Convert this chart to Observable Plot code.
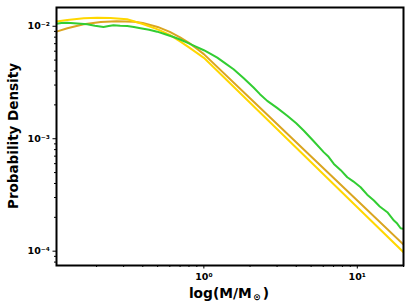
<!DOCTYPE html>
<html><head><meta charset="utf-8">
<script src="https://cdn.jsdelivr.net/npm/d3@7"></script>
<script src="https://cdn.jsdelivr.net/npm/@observablehq/plot@0.6"></script>
<style>body{margin:0;background:#fff;} #chart{width:409px;height:308px;}</style>
</head><body><div id="chart"></div>
<script>
// Yellow (gold) curve
const yellowMass = [0.1096, 0.129, 0.165, 0.202, 0.246, 0.316, 0.4, 0.5, 0.6, 0.7, 0.8, 0.9, 1.0, 2, 5, 10, 20];
const yellowDensity = [0.0110, 0.01137, 0.01178, 0.0119, 0.01185, 0.01153, 0.01048, 0.00937, 0.00837, 0.00733, 0.00648, 0.0058, 0.00524, 0.002085, 0.000618, 0.000246, 0.0000979];
// Orange (goldenrod) curve
const orangeMass = [0.1096, 0.129, 0.165, 0.213, 0.27, 0.35, 0.4, 0.5, 0.6, 0.7, 0.8, 0.9, 1.0, 2, 5, 10, 20];
const orangeDensity = [0.00895, 0.0096, 0.01042, 0.01091, 0.01107, 0.01095, 0.01069, 0.00986, 0.0089, 0.00796, 0.00711, 0.0063, 0.00565, 0.00229, 0.000695, 0.000282, 0.0001146];
// Green (sampled) curve
const greenMass = [0.1096, 0.118, 0.1288, 0.15, 0.1738, 0.195, 0.2219, 0.24, 0.2577, 0.285, 0.3167, 0.35, 0.3866, 0.44, 0.4966, 0.56, 0.6339, 0.70, 0.7798, 0.88, 1.0, 1.10, 1.223, 1.38, 1.562, 1.82, 2.108, 2.32, 2.589, 3.0, 3.496, 4.0, 4.486, 5.2, 6.059, 6.5, 7.034, 7.8, 8.604, 9.4, 10.51, 10.9, 11.6, 12.83, 14.0, 15.69, 17.33, 18.2, 19.15, 20];
const greenDensity = [0.01054, 0.01068, 0.01076, 0.0106, 0.01042, 0.0101, 0.00986, 0.01005, 0.01021, 0.01012, 0.01006, 0.00985, 0.0096, 0.0093, 0.00895, 0.0085, 0.00803, 0.00762, 0.00715, 0.00663, 0.00612, 0.00572, 0.00526, 0.00468, 0.00415, 0.00345, 0.00285, 0.00249, 0.00217, 0.00188, 0.0016, 0.00137, 0.001178, 0.00095, 0.000756, 0.00069, 0.000597, 0.000525, 0.000454, 0.000418, 0.00037, 0.00035, 0.000318, 0.000282, 0.00025, 0.000222, 0.000187, 0.000176, 0.00016, 0.000158];

const xTicks = [1, 10];
const xTickLabels = ["10⁰", "10¹"];
const xMinor = [0.2, 0.3, 0.4, 0.5, 0.6, 0.7, 0.8, 0.9, 2, 3, 4, 5, 6, 7, 8, 9, 20];
const yTicks = [1e-4, 1e-3, 1e-2];
const yTickLabels = ["10⁻⁴", "10⁻³", "10⁻²"];
const yMinor = [8e-5, 9e-5, 2e-4, 3e-4, 4e-4, 5e-4, 6e-4, 7e-4, 8e-4, 9e-4, 2e-3, 3e-3, 4e-3, 5e-3, 6e-3, 7e-3, 8e-3, 9e-3];
const xLabel = "log(M/M";
const xLabelSub = "⊙";
const yLabel = "Probability Density";

const toRows = (xs, ys) => xs.map((m, i) => ({m, d: ys[i]}));
const yellow = toRows(yellowMass, yellowDensity);
const orange = toRows(orangeMass, orangeDensity);
const green = toRows(greenMass, greenDensity);

const font = "DejaVu Sans";
const chart = Plot.plot({
  width: 409, height: 308,
  marginLeft: 56, marginRight: 6, marginTop: 7, marginBottom: 43,
  style: {fontFamily: font, background: "#fff"},
  x: {type: "log", domain: [0.1096, 20]},
  y: {type: "log", domain: [7.46e-5, 0.01468]},
  marks: [
    Plot.line(orange, {x: "m", y: "d", stroke: "#DAA520", strokeWidth: 2, clip: true}),
    Plot.line(yellow, {x: "m", y: "d", stroke: "#FFD700", strokeWidth: 2, clip: true}),
    Plot.line(green, {x: "m", y: "d", stroke: "#32CD32", strokeWidth: 2, clip: true}),
    Plot.axisX({ticks: xMinor, tickSize: 2, tickFormat: () => "", label: null}),
    Plot.axisX({ticks: xTicks, tickSize: 3.5, tickPadding: 4, tickFormat: (d) => xTickLabels[xTicks.indexOf(d)], fontSize: 9.5, fontWeight: "bold", label: null}),
    Plot.axisY({ticks: yMinor, tickSize: 2, tickFormat: () => "", label: null}),
    Plot.axisY({ticks: yTicks, tickSize: 3.5, tickPadding: 3, tickFormat: (d) => yTickLabels[yTicks.indexOf(d)], fontSize: 9.5, fontWeight: "bold", label: null}),
    Plot.frame({stroke: "black", strokeWidth: 2})
  ]
});
document.getElementById("chart").appendChild(chart);
const svg = d3.select(chart);
svg.selectAll("g[aria-label$='axis'] text, g[aria-label$='tick label'] text").attr("fill", "black");
const xl = svg.append("text")
  .attr("x", 229).attr("y", 297.5)
  .attr("text-anchor", "middle")
  .attr("font-family", font).attr("font-weight", "bold").attr("font-size", 13.8)
  .attr("fill", "black");
xl.append("tspan").text(xLabel);
xl.append("tspan").attr("font-size", 9).attr("dx", 1.5).attr("dy", 2.5).text(xLabelSub);
xl.append("tspan").attr("dx", 2).attr("dy", -2.5).text(")");
svg.append("text")
  .attr("transform", "translate(18,136) rotate(-90)")
  .attr("text-anchor", "middle")
  .attr("font-family", font).attr("font-weight", "bold").attr("font-size", 13.5)
  .attr("fill", "black")
  .text(yLabel);
</script>
</body></html>
